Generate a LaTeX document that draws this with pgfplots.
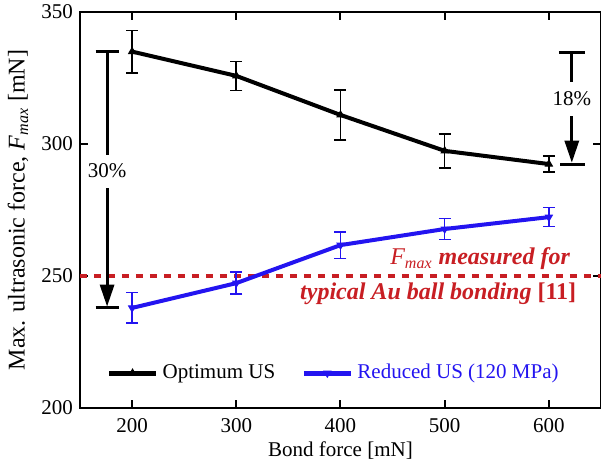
\documentclass[border=0pt]{standalone}
\usepackage{fontspec}
\setmainfont{Liberation Serif}
\usepackage{pgfplots}
\pgfplotsset{compat=1.18}
\usetikzlibrary{arrows.meta}
\definecolor{myblue}{RGB}{35,20,240}
\definecolor{myred}{RGB}{200,30,35}
\begin{document}
\begin{tikzpicture}[font=\fontsize{10.5}{12.6}\selectfont]
\begin{axis}[
  scale only axis, width=260.5pt, height=198pt,
  xmin=150, xmax=650, ymin=200, ymax=350,
  xtick={200,300,400,500,600}, ytick={200,250,300,350},
  tick align=inside, major tick length=4pt,
  axis line style={line width=1pt},
  every tick/.style={line width=1pt, black},
  /pgf/number format/assume math mode=true,
  ticklabel style={font=\rmfamily\fontsize{10.5}{12.6}\selectfont},
  xticklabel style={yshift=-1.5pt},
  xlabel={Bond force [mN]},
  ylabel={Max. ultrasonic force, \textit{F\textsubscript{max}} [mN]},
  xlabel style={at={(axis description cs:0.5,-0.1086)}, anchor=center},
  ylabel style={at={(axis description cs:-0.119,0.5)}, anchor=center, font=\fontsize{12}{14}\selectfont},
  legend columns=2,
  legend style={draw=none, fill=none, inner sep=0pt, at={(axis description cs:0.05,0.088)}, anchor=west,
    /tikz/every even column/.append style={column sep=11pt}},
  legend image code/.code={\draw[mark repeat=2,mark phase=2,#1,line width=2.6pt] plot coordinates {(0pt,0pt) (11.75pt,0pt) (23.5pt,0pt)};},
  error bars/error bar style={line width=0.8pt, solid},
  error bars/error mark options={rotate=90, mark size=3pt, line width=0.8pt},
]
\coordinate (A) at (rel axis cs:0,0);
\coordinate (B) at (rel axis cs:1,1);
% reference line
\addplot[myred, line width=2pt, dash pattern=on 3.3pt off 3.7pt, forget plot] coordinates {(150,250) (650,250)};
\addplot[black, line width=2pt, mark=triangle*, mark size=2pt, mark options={solid, line width=0.5pt},
  error bars/.cd, y dir=both, y explicit]
  coordinates {(200,335) +- (0,8) (300,325.8) +- (0,5.5) (400,311) +- (0,9.5) (500,297.4) +- (0,6.5) (600,292.4) +- (0,3)};
\addlegendentry{Optimum US}
\addplot[myblue, line width=2pt, mark=triangle*, mark size=2pt, mark options={solid, rotate=180, line width=0.5pt},
  error bars/.cd, y dir=both, y explicit]
  coordinates {(200,237.9) +- (0,5.8) (300,247.3) +- (0,4.2) (400,261.7) +- (0,5) (500,267.8) +- (0,4) (600,272.3) +- (0,3.6)};
\addlegendentry[text=myblue]{Reduced US (120 MPa)}
% 30% annotation
\draw[line width=1.5pt] (axis cs:165,335) -- (axis cs:187,335);
\draw[line width=1.5pt] (axis cs:176,335) -- (axis cs:176,295.8);
\draw[line width=1.5pt, -{Triangle[length=11pt,width=7pt]}] (axis cs:176,283.3) -- (axis cs:176,238.4);
\draw[line width=1.5pt] (axis cs:165,237.9) -- (axis cs:187,237.9);
\node at (axis cs:176,290) {30\%};
% 18% annotation
\draw[line width=1.5pt] (axis cs:609.5,334.8) -- (axis cs:634.5,334.8);
\draw[line width=1.5pt] (axis cs:622,334.8) -- (axis cs:622,323.5);
\draw[line width=1.5pt, -{Triangle[length=11pt,width=7pt]}] (axis cs:622,310.6) -- (axis cs:622,292.9);
\draw[line width=1.5pt] (axis cs:611,292.4) -- (axis cs:634.5,292.4);
\node at (axis cs:622,317) {18\%};
% red text
\node[anchor=east, text=myred, font=\fontsize{12}{14}\selectfont\bfseries\itshape] at (axis cs:627,256.6) {{\mdseries F\textsubscript{max}} measured for};
\node[anchor=east, text=myred, font=\fontsize{12}{14}\selectfont\bfseries\itshape] at (axis cs:633,243.4) {typical Au ball bonding {\upshape [11]}};
\end{axis}
\pgfresetboundingbox
\useasboundingbox ([shift={(-40pt,-29pt)}]A) rectangle ([shift={(0pt,6pt)}]B);
\end{tikzpicture}
\end{document}
